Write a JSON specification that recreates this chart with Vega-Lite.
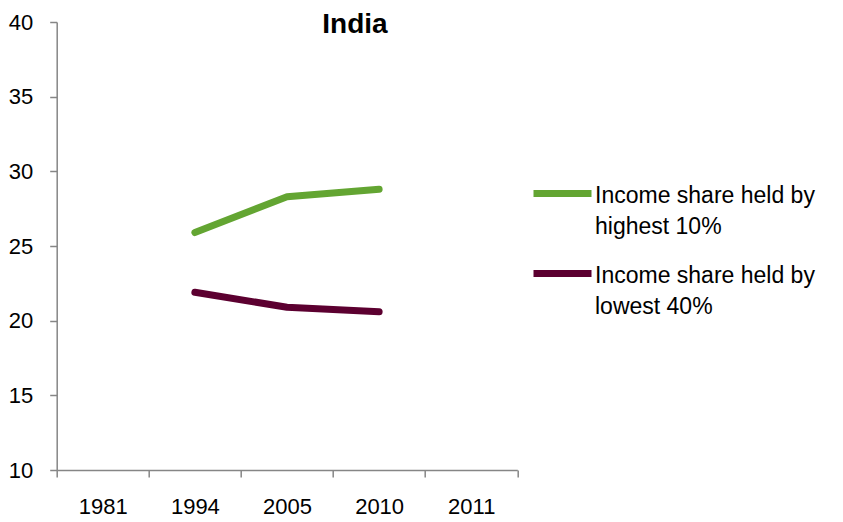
{
  "$schema": "https://vega.github.io/schema/vega-lite/v6.json",
  "autosize": {"type": "none"},
  "width": 460.6,
  "height": 448,
  "padding": {"left": 56.7, "top": 22, "right": 325.7, "bottom": 52},
  "background": "white",
  "config": {
    "font": "Liberation Sans",
    "view": {"stroke": null},
    "style": {"guide-label": {"lineHeight": 31}}
  },
  "title": {
    "text": "India",
    "font": "Liberation Sans",
    "fontSize": 28,
    "fontWeight": "bold",
    "color": "black",
    "anchor": "middle",
    "dx": 68,
    "dy": 50,
    "baseline": "alphabetic",
    "offset": 0
  },
  "data": {
    "values": [
      {"year": "1994", "series": "Income share held by highest 10%", "value": 25.9},
      {"year": "2005", "series": "Income share held by highest 10%", "value": 28.3},
      {"year": "2010", "series": "Income share held by highest 10%", "value": 28.8},
      {"year": "1994", "series": "Income share held by lowest 40%", "value": 21.9},
      {"year": "2005", "series": "Income share held by lowest 40%", "value": 20.9},
      {"year": "2010", "series": "Income share held by lowest 40%", "value": 20.6}
    ]
  },
  "mark": {"type": "line", "strokeWidth": 7, "strokeCap": "round", "strokeJoin": "round"},
  "encoding": {
    "x": {
      "field": "year",
      "type": "ordinal",
      "bandPosition": 0.5,
      "scale": {"type": "band", "domain": ["1981", "1994", "2005", "2010", "2011"], "paddingInner": 0, "paddingOuter": 0},
      "axis": {
        "title": null,
        "labelAngle": 0,
        "tickBand": "extent",
        "domainColor": "#868686",
        "domainWidth": 1.5,
        "tickColor": "#868686",
        "tickWidth": 1.5,
        "tickSize": 7,
        "labelPadding": 19,
        "labelFontSize": 22,
        "labelColor": "black",
        "labelFont": "Liberation Sans",
        "grid": false
      }
    },
    "y": {
      "field": "value",
      "type": "quantitative",
      "scale": {"domain": [10, 40], "nice": false, "zero": false},
      "axis": {
        "title": null,
        "values": [10, 15, 20, 25, 30, 35, 40],
        "domainColor": "#868686",
        "domainWidth": 1.5,
        "tickColor": "#868686",
        "tickWidth": 1.5,
        "tickSize": 7,
        "labelPadding": 17,
        "labelFontSize": 22,
        "labelColor": "black",
        "labelFont": "Liberation Sans",
        "grid": false
      }
    },
    "color": {
      "field": "series",
      "type": "nominal",
      "scale": {
        "domain": ["Income share held by highest 10%", "Income share held by lowest 40%"],
        "range": ["#63A532", "#5C0030"]
      },
      "legend": {
        "title": null,
        "orient": "none",
        "legendX": 487.8,
        "legendY": 144.5,
        "padding": 0,
        "symbolType": "M-2,0.62H2",
        "symbolSize": 841,
        "symbolStrokeWidth": 7,
        "labelFontSize": 23,
        "labelFont": "Liberation Sans",
        "labelColor": "black",
        "labelLimit": 0,
        "labelOffset": 14.5,
        "labelBaseline": "top",
        "rowPadding": 8,
        "labelExpr": "[slice(datum.label, 0, 20), slice(datum.label, 21)]"
      }
    }
  }
}
